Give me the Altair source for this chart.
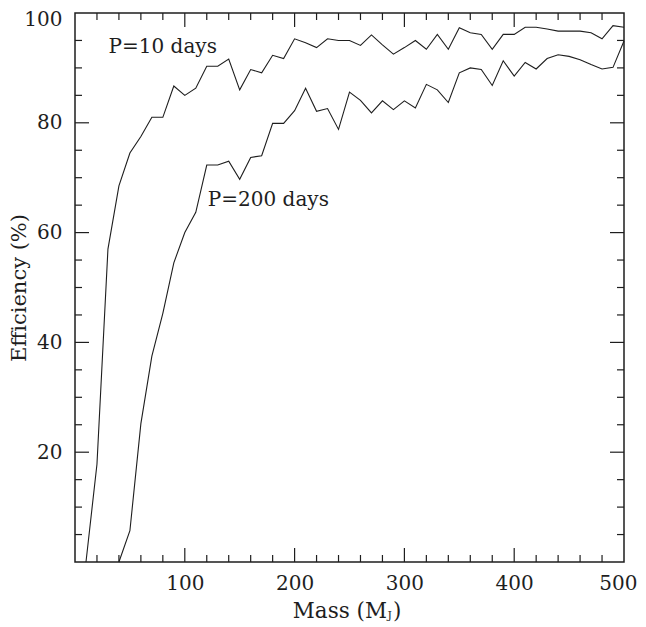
import altair as alt
import pandas as pd

# ---- data ----
p10_mass = list(range(10, 501, 10))
p10_eff = [0, 17.8, 57, 68.5, 74.5, 77.5, 81, 81, 86.7, 85,
           86.3, 90.3, 90.3, 91.6, 86, 89.7, 89.1, 92.3, 91.7, 95.3,
           94.6, 93.7, 95.3, 95, 95, 94.1, 96, 94.2, 92.5, 93.7,
           95, 93.4, 96.1, 93.4, 97.3, 96.4, 96.1, 93.4, 96.1, 96.1,
           97.4, 97.4, 97.1, 96.7, 96.7, 96.7, 96.4, 95.3, 97.7, 97.4]

p200_mass = list(range(40, 501, 10))
p200_eff = [0, 5.7, 25.2, 37.5, 45.3, 54.5, 60, 63.7, 72.3, 72.3,
            73, 69.7, 73.7, 74, 79.9, 79.9, 82.2, 86.3, 82.1, 82.6,
            78.8, 85.6, 84.1, 81.8, 84, 82.4, 84, 82.7, 87, 86,
            83.7, 89.1, 90, 89.7, 86.8, 91.3, 88.5, 91, 89.8, 91.7,
            92.4, 92.1, 91.5, 90.6, 89.8, 90.1, 94.9]

series_labels = ["P=10 days", "P=200 days"]
label_mass = [30.6, 121]
label_eff = [92.8, 64.8]

x_label_values = [100, 200, 300, 400, 500]
y_label_values = [20, 40, 60, 80, 100]
x_major_ticks = [100, 200, 300, 400]
x_minor_ticks = [v for v in range(20, 500, 20) if v % 100 != 0]
y_major_ticks = [20, 40, 60, 80]
y_minor_ticks = [v for v in range(5, 100, 5) if v % 20 != 0]

y_title = "Efficiency (%)"
x_title_main = "Mass (M"
x_title_sub = "J"
x_title_close = ")"

# ---- styling ----
W, H = 549, 549
FONT = "DejaVu Serif"
INK = "#1e1e1e"
MAJOR, MINOR = 14, 7

df = pd.concat([
    pd.DataFrame({"mass": p10_mass, "eff": p10_eff, "series": "P=10"}),
    pd.DataFrame({"mass": p200_mass, "eff": p200_eff, "series": "P=200"}),
])

xscale = alt.Scale(domain=[0, 500], nice=False, zero=False)
yscale = alt.Scale(domain=[0, 100], nice=False, zero=False)

xaxis = alt.Axis(values=x_label_values, title=None, ticks=False, tickSize=0,
                 domain=False, grid=False, labelFont=FONT, labelFontSize=20,
                 labelColor=INK, labelPadding=11, labelFlush=True,
                 labelFlushOffset=13, labelOverlap=False)
yaxis = alt.Axis(values=y_label_values, title=y_title, ticks=False, tickSize=0,
                 domain=False, grid=False, labelFont=FONT, labelFontSize=20,
                 labelColor=INK, labelPadding=13, labelFlush=True,
                 labelFlushOffset=4, labelOverlap=False, titleFont=FONT,
                 titleFontSize=21, titleFontWeight="normal", titleColor=INK,
                 titleX=-56, titleY=H / 2, titleAngle=270,
                 titleBaseline="middle", titleAlign="center")

lines = alt.Chart(df).mark_line(color=INK, strokeWidth=1.1).encode(
    x=alt.X("mass:Q", scale=xscale, axis=xaxis),
    y=alt.Y("eff:Q", scale=yscale, axis=yaxis),
    detail="series:N",
)

layers = [lines]


def tick_layer(vals, chan, side, length):
    d = pd.DataFrame({"v": vals})
    base = alt.Chart(d).mark_rule(color=INK, strokeWidth=1.2)
    if chan == "x":
        enc = {"x": alt.X("v:Q", scale=xscale, axis=xaxis)}
        if side == "bottom":
            enc.update(y=alt.value(H), y2=alt.value(H - length))
        else:
            enc.update(y=alt.value(0), y2=alt.value(length))
    else:
        enc = {"y": alt.Y("v:Q", scale=yscale, axis=yaxis)}
        if side == "left":
            enc.update(x=alt.value(0), x2=alt.value(length))
        else:
            enc.update(x=alt.value(W), x2=alt.value(W - length))
    return base.encode(**enc)


for side in ["bottom", "top"]:
    layers.append(tick_layer(x_major_ticks, "x", side, MAJOR))
    layers.append(tick_layer(x_minor_ticks, "x", side, MINOR))
for side in ["left", "right"]:
    layers.append(tick_layer(y_major_ticks, "y", side, MAJOR))
    layers.append(tick_layer(y_minor_ticks, "y", side, MINOR))

lab_df = pd.DataFrame({"label": series_labels, "mass": label_mass, "eff": label_eff})
labels = alt.Chart(lab_df).mark_text(
    align="left", baseline="alphabetic", font=FONT, fontSize=20, color=INK
).encode(
    x=alt.X("mass:Q", scale=xscale, axis=xaxis),
    y=alt.Y("eff:Q", scale=yscale, axis=yaxis),
    text="label:N",
)
layers.append(labels)

TY = H + 56
t_main = alt.Chart(pd.DataFrame({"t": [x_title_main]})).mark_text(
    align="right", baseline="alphabetic", font=FONT, fontSize=21.5, color=INK
).encode(x=alt.value(312), y=alt.value(TY), text="t:N")
t_sub = alt.Chart(pd.DataFrame({"t": [x_title_sub]})).mark_text(
    align="left", baseline="alphabetic", font=FONT, fontSize=11, color=INK
).encode(x=alt.value(312.5), y=alt.value(TY + 1), text="t:N")
t_close = alt.Chart(pd.DataFrame({"t": [x_title_close]})).mark_text(
    align="left", baseline="alphabetic", font=FONT, fontSize=21.5, color=INK
).encode(x=alt.value(318), y=alt.value(TY), text="t:N")
layers += [t_main, t_sub, t_close]

chart = alt.layer(*layers).properties(
    width=W, height=H,
    autosize=alt.AutoSizeParams(type="none"),
    padding={"left": 67, "top": 5, "right": 14, "bottom": 64},
    background="white",
).configure_view(stroke=INK, strokeWidth=1.5)

chart.save("out.html", embed_options={"renderer": "svg", "actions": False})
